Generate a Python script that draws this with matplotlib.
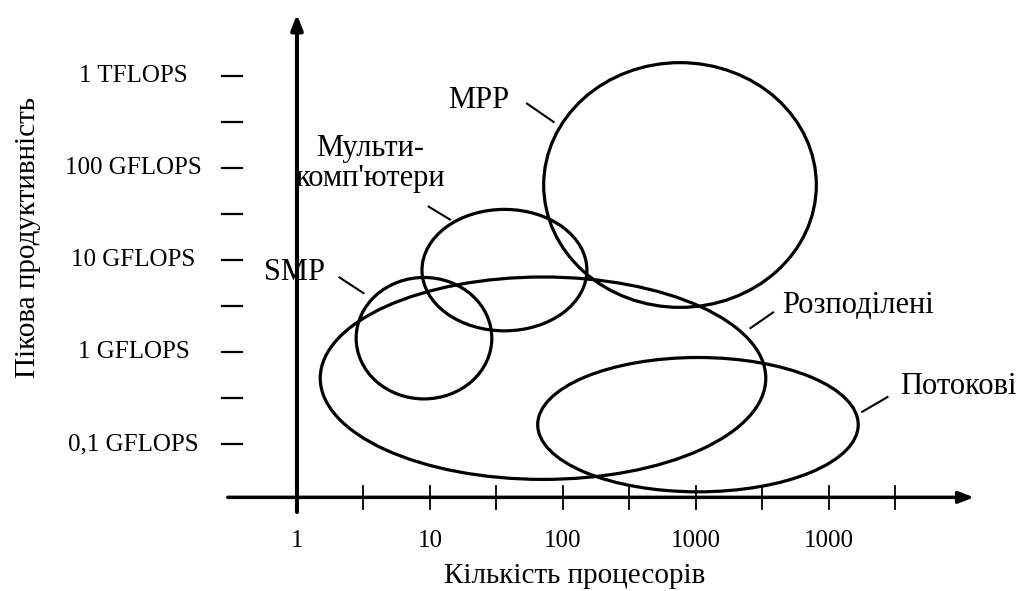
import matplotlib
matplotlib.use("Agg")
import matplotlib.pyplot as plt
from matplotlib.patches import Ellipse

plt.rcParams['font.family'] = ['Liberation Serif', 'DejaVu Serif']

# x: log10(кількість процесорів), y: log10(GFLOPS)
x_ticks = [0, 1, 2, 3, 4]
x_labels = ["1", "10", "100", "1000", "1000"]
y_ticks = [-1, 0, 1, 2, 3]
y_labels = ["0,1 GFLOPS", "1 GFLOPS", "10 GFLOPS", "100 GFLOPS", "1 TFLOPS"]

# класи систем: центр (log10 N, log10 GFLOPS), ширина та висота в декадах
names = ["MPP", "Мульти-\nкомп'ютери", "SMP", "Розподілені", "Потокові"]
cx = [2.88, 1.56, 0.955, 1.85, 3.015]
cy = [1.815, 0.89, 0.15, -0.285, -0.79]
w = [2.05, 1.24, 1.02, 3.35, 2.41]
h = [2.66, 1.32, 1.32, 2.2, 1.46]

# підписи та виноски
lab_x = [1.37, 0.55, -0.02, 4.22, 4.97]
lab_y = [2.73, 2.05, 0.86, 0.50, -0.38]
lead = [((1.73, 2.70), (1.93, 2.50)),
        ((0.99, 1.58), (1.15, 1.44)),
        ((0.32, 0.81), (0.50, 0.64)),
        ((3.41, 0.26), (3.58, 0.43)),
        ((4.25, -0.65), (4.44, -0.49))]

fig = plt.figure(figsize=(10.19, 5.91), dpi=100)
ax = fig.add_axes([0, 0, 1, 1])
ax.set_xlim(-2.233, 5.429)
ax.set_ylim(-2.598, 3.826)
ax.axis('off')

# осі
ax.annotate("", xy=(5.09, -1.58), xytext=(-0.52, -1.58),
            arrowprops=dict(arrowstyle="-|>,head_length=0.9,head_width=0.35",
                            lw=2.5, color='black', shrinkA=0, shrinkB=0))
ax.annotate("", xy=(0, 3.67), xytext=(0, -1.74),
            arrowprops=dict(arrowstyle="-|>,head_length=0.9,head_width=0.35",
                            lw=2.9, color='black', shrinkA=0, shrinkB=0))

# поділки по x
for i in range(10):
    u = i * 0.5
    ax.plot([u, u], [-1.705, -1.455], color='black', lw=1.3)
for u, t in zip(x_ticks, x_labels):
    ax.text(u, -2.05, t, ha='center', va='center', fontsize=18)

# поділки по y
for i in range(9):
    v = -1 + i * 0.5
    ax.plot([-0.56, -0.41], [v, v], color='black', lw=1.6)
for v, t in zip(y_ticks, y_labels):
    ax.text(-1.23, v, t, ha='center', va='center', fontsize=18)

ax.text(2.09, -2.44, "Кількість процесорів", ha='center', va='center', fontsize=21)
ax.text(-2.02, 1.24, "Пікова продуктивність", ha='center', va='center',
        rotation=90, fontsize=21)

for i in range(len(names)):
    ax.add_patch(Ellipse((cx[i], cy[i]), w[i], h[i], fill=False,
                         lw=2.3, color='black'))
    ax.text(lab_x[i], lab_y[i], names[i], ha='center', va='center',
            fontsize=22, linespacing=1.05)
    (x0, y0), (x1, y1) = lead[i]
    ax.plot([x0, x1], [y0, y1], color='black', lw=1.5)

fig.savefig("out.png", dpi=100)
